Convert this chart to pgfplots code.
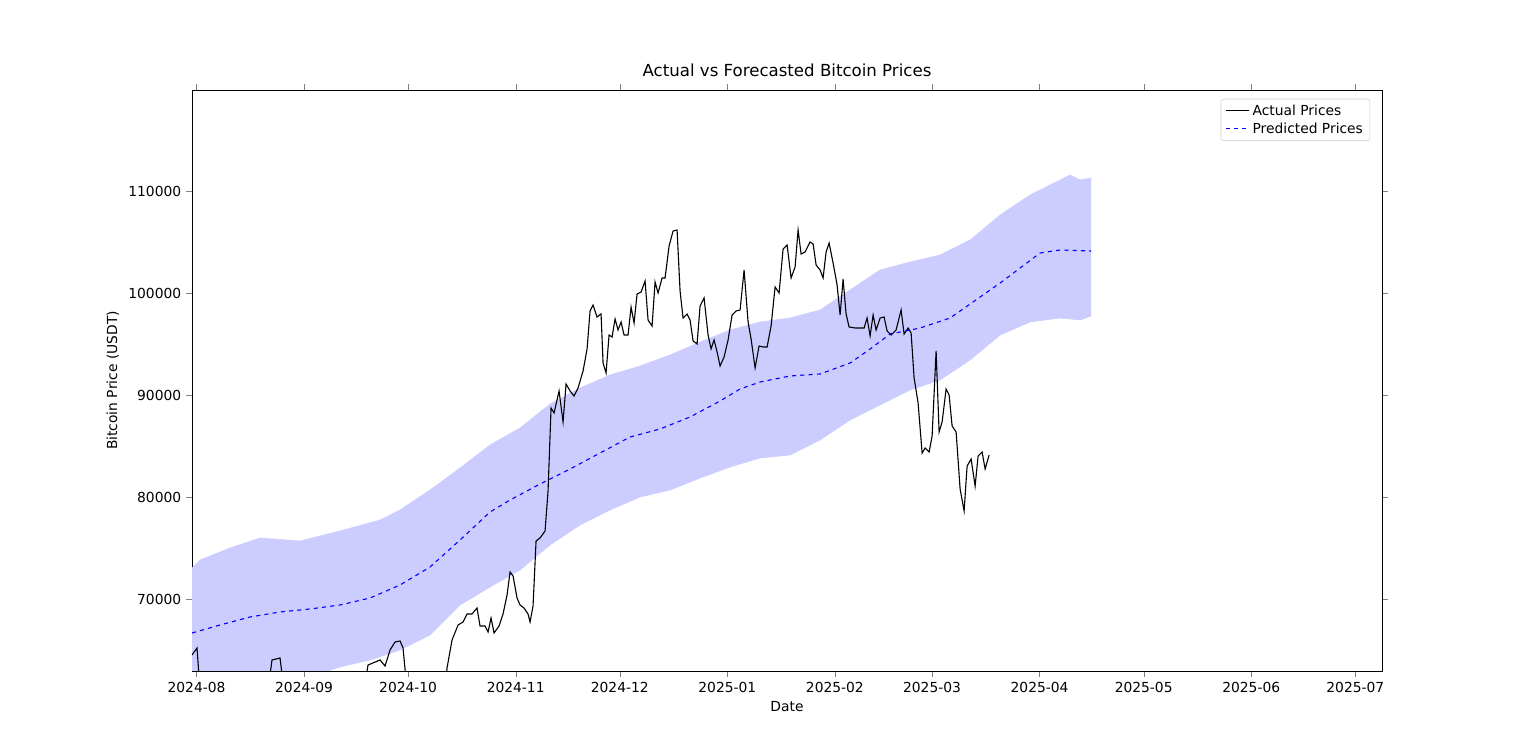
\documentclass[border=0pt]{standalone}
\usepackage{pgfplots}
\pgfplotsset{compat=1.18}
\usepgfplotslibrary{fillbetween}
\usepackage{fontspec}
\setmainfont{DejaVu Sans}
\begin{document}
\begin{tikzpicture}[x=0.254mm,y=0.254mm]
\path (-192,-83) rectangle (1344,671);
\begin{axis}[at={(0,0)},anchor=south west,scale only axis,width=302.26mm,height=147.57mm,
 xmin=-1.3,xmax=341.7,ymin=62941,ymax=119902,
 xtick={0,31,61,92,122,153,184,212,243,273,304,334},
 xticklabels={2024-08,2024-09,2024-10,2024-11,2024-12,2025-01,2025-02,2025-03,2025-04,2025-05,2025-06,2025-07},
 ytick={70000,80000,90000,100000,110000},
 /pgf/number format/.cd,fixed,1000 sep={},assume math mode=true,/pgfplots/.cd,
 scaled y ticks=false,
 tick label style={font=\fontsize{10}{12}\selectfont},
 label style={font=\fontsize{10}{12}\selectfont},
 title style={font=\fontsize{12}{14}\selectfont},
 title={Actual vs Forecasted Bitcoin Prices},
 xlabel={Date},ylabel={Bitcoin Price (USDT)},
 tick align=outside,
 x filter/.expression={(x-196.5)/3.469},
 y filter/.expression={70000+(599-y)*98.04},
 legend style={at={(0.99,0.985)},anchor=north east,font=\fontsize{10}{12}\selectfont,draw=black!20,rounded corners=2pt,cells={anchor=west}},
 legend cell align=left,
]
\addplot[name path=up,draw=blue!20,forget plot] coordinates {(192,568)(200,560)(230,548)(260,538)(300,541)(340,531)(380,520)(400,510)(430,490)(460,468)(490,445)(520,428)(550,404)(580,388)(610,375)(640,366)(670,355)(700,342)(730,330)(760,322)(790,318)(820,310)(850,290)(880,270)(910,262)(940,255)(970,240)(1000,215)(1030,195)(1060,180)(1070,175)(1080,180)(1091,178)};
\addplot[name path=lo,draw=blue!20,forget plot] coordinates {(192,700)(250,690)(300,680)(340,667)(370,660)(400,650)(430,635)(460,605)(490,587)(520,570)(550,545)(580,525)(610,510)(640,497)(670,490)(700,478)(730,467)(760,458)(790,455)(820,440)(850,420)(880,405)(910,390)(940,380)(970,360)(1000,335)(1030,322)(1060,318)(1080,320)(1091,316)};
\addplot[fill=blue!20,draw=none,forget plot] fill between[of=up and lo];
\addplot[black,thick,unbounded coords=jump] coordinates {(192,655)(197,648)(200,690) (268,690)(272,660)(280,658)(284,690) (364,690)(368,665)(380,660)(385,666)(390,650)(395,642)(400,641)(403,648)(407,690) (445,690)(447,668)(452,640)(458,625)(463,622)(467,614)(472,614)(477,608)(480,626)(485,626)(488,632)(491,618)(494,633)(499,626)(503,614)(507,595)(510,572)(513,576)(517,598)(520,605)(524,608)(528,614)(530,622)(533,606)(536,541)(540,538)(545,531)(548,491)(551,408)(554,413)(559,391)(563,422)(566,384)(570,391)(574,396)(578,388)(583,371)(587,349)(590,311)(593,305)(597,317)(601,314)(603,363)(606,373)(609,335)(612,337)(615,319)(618,330)(621,322)(624,335)(628,335)(631,307)(634,323)(637,294)(641,292)(645,281)(648,320)(652,326)(655,282)(658,293)(662,278)(665,278)(669,246)(673,231)(677,230)(680,291)(683,318)(687,314)(690,320)(693,341)(697,344)(700,306)(704,298)(708,335)(711,349)(714,340)(717,352)(720,366)(724,357)(728,340)(732,315)(736,311)(740,310)(744,270)(748,322)(751,339)(755,368)(759,346)(763,347)(767,347)(771,326)(775,287)(779,293)(783,249)(787,245)(791,278)(795,267)(798,230)(801,254)(805,252)(810,242)(813,244)(816,265)(820,270)(823,278)(826,252)(829,243)(833,263)(837,285)(840,315)(843,279)(846,314)(849,327)(855,328)(860,328)(864,328)(867,318)(870,336)(873,315)(876,330)(880,318)(884,317)(887,331)(891,335)(896,330)(901,310)(904,334)(908,328)(911,333)(914,378)(918,403)(922,453)(925,448)(929,452)(932,436)(936,351)(939,432)(942,422)(946,389)(949,395)(952,426)(956,432)(960,489)(964,511)(967,466)(971,459)(975,486)(978,456)(982,452)(985,469)(989,455)};
\addlegendentry{Actual Prices}
\addplot[blue,thick,dashed] coordinates {(192,633)(220,625)(250,617)(280,612)(310,609)(340,605)(370,598)(400,585)(430,567)(460,540)(490,512)(510,500)(540,484)(570,469)(600,453)(630,437)(660,429)(690,417)(720,401)(740,389)(760,382)(790,376)(820,374)(850,363)(870,349)(890,334)(920,328)(950,318)(970,304)(1000,283)(1020,268)(1040,253)(1060,250)(1091,251)};
\addlegendentry{Predicted Prices}
\end{axis}
\end{tikzpicture}
\end{document}
